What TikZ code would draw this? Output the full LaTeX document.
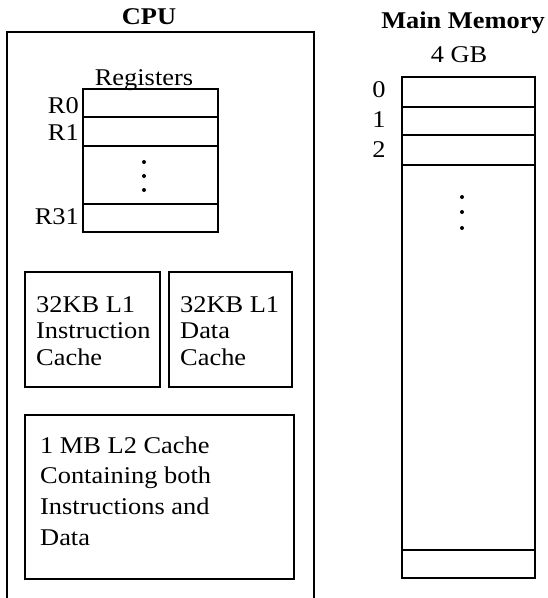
\documentclass[tikz,border=0pt]{standalone}
\usepackage{fontspec}
\setmainfont{Liberation Serif}[FakeStretch=1.1]
\begin{document}
\begin{tikzpicture}[x=1pt,y=-1pt,
  ln/.style={line width=1.3pt},
  box/.style={draw, ln, inner sep=0pt, outer sep=0pt, anchor=north west},
  txt/.style={inner sep=0pt, font=\fontsize{24}{27}\selectfont},
  lw/.style={txt, anchor=base west},
  ttl/.style={inner sep=0pt, font=\fontsize{24}{27}\selectfont\bfseries},
  dotc/.style={fill=black, circle, inner sep=0pt, minimum size=4pt}]
\useasboundingbox (0,0) rectangle (548,598);
% CPU
\node[ttl, anchor=base] (cputitle) at (149,24) {CPU};
\coordinate (cbl) at (7,598);
\coordinate (ctl) at (7,32);
\coordinate (ctr) at (314,32);
\coordinate (cbr) at (314,598);
\draw[ln] (cbl) -- (ctl) -- (ctr) -- (cbr);
% Registers
\node[txt, anchor=base] (reglabel) at (144,85) {Registers};
\node[box, minimum width=135pt, minimum height=28pt] (r0) at (83,89) {};
\node[box, minimum width=135pt, minimum height=29pt] (r1) at (83,117) {};
\node[box, minimum width=135pt, minimum height=58pt] (rd) at (83,146) {};
\node[box, minimum width=135pt, minimum height=28pt] (r31) at (83,204) {};
\node[txt, anchor=base east] (lr0) at (79,113) {R0};
\node[txt, anchor=base east] (lr1) at (79,140) {R1};
\node[txt, anchor=base east] (lr31) at (79,224) {R31};
\node[dotc] (rd1) at (144,162) {};
\node[dotc] (rd2) at (144,176) {};
\node[dotc] (rd3) at (144,190) {};
% L1 caches
\node[box, minimum width=135pt, minimum height=115pt] (l1i) at (25,272) {};
\node[box, minimum width=123pt, minimum height=115pt] (l1d) at (169,272) {};
\node[lw] (l1ia) at (36,312) {32KB L1};
\node[lw] (l1ib) at (36,338) {Instruction};
\node[lw] (l1ic) at (36,365) {Cache};
\node[lw] (l1da) at (180,312) {32KB L1};
\node[lw] (l1db) at (180,338) {Data};
\node[lw] (l1dc) at (180,365) {Cache};
% L2 cache
\node[box, minimum width=269pt, minimum height=164pt] (l2) at (25,415) {};
\node[lw] (l2a) at (40,453) {1 MB L2 Cache};
\node[lw] (l2b) at (40,483) {Containing both};
\node[lw] (l2c) at (40,514) {Instructions and};
\node[lw] (l2d) at (40,545) {Data};
% Main memory
\node[ttl, anchor=base] (memtitle) at (463,28) {Main Memory};
\node[txt, anchor=base] (memsize) at (459,62) {4 GB};
\node[box, minimum width=133pt, minimum height=30pt] (m0) at (402,77) {};
\node[box, minimum width=133pt, minimum height=28pt] (m1) at (402,107) {};
\node[box, minimum width=133pt, minimum height=30pt] (m2) at (402,135) {};
\node[box, minimum width=133pt, minimum height=385pt] (md) at (402,165) {};
\node[box, minimum width=133pt, minimum height=28pt] (mlast) at (402,550) {};
\node[txt, anchor=base] (lm0) at (379,97) {0};
\node[txt, anchor=base] (lm1) at (379,127) {1};
\node[txt, anchor=base] (lm2) at (379,157) {2};
\node[dotc] (md1) at (462,197) {};
\node[dotc] (md2) at (462,212) {};
\node[dotc] (md3) at (462,228) {};
\end{tikzpicture}
\end{document}
